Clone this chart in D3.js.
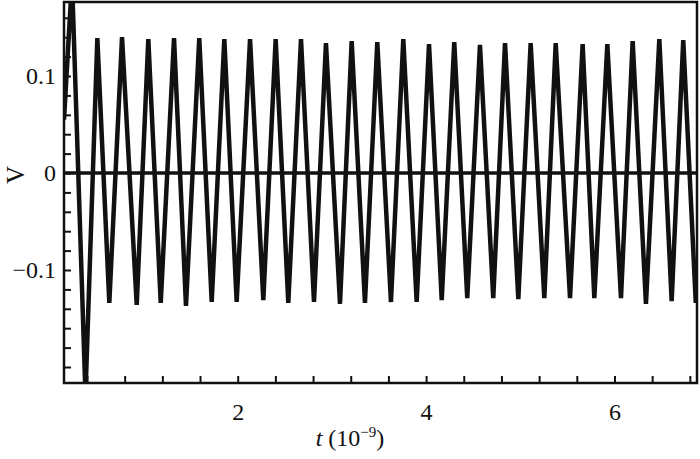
<!DOCTYPE html>
<html>
<head>
<meta charset="utf-8">
<script src="https://cdn.jsdelivr.net/npm/d3@7"></script>
<style>
  body { margin: 0; background: #fff; }
  svg { display: block; font-family: "Liberation Serif", "Times New Roman", serif; }
</style>
</head>
<body>
<svg id="chart"></svg>
<script>
// waveform vertices: t (10^-9), V
const timeVals = [0.156, 0.241, 0.384, 0.510, 0.637, 0.772, 0.928, 1.051, 1.183, 1.324,
                  1.451, 1.592, 1.724, 1.858, 1.989, 2.131, 2.272, 2.403, 2.537, 2.672,
                  2.810, 2.937, 3.086, 3.210, 3.351, 3.482, 3.627, 3.758, 3.900, 4.031,
                  4.166, 4.299, 4.437, 4.572, 4.713, 4.838, 4.979, 5.110, 5.255, 5.376,
                  5.528, 5.662, 5.786, 5.924, 6.069, 6.193, 6.334, 6.476, 6.607, 6.730,
                  6.863];
const voltVals = [0.055, 0.199, -0.229, 0.139, -0.134, 0.140, -0.136, 0.138, -0.134, 0.139,
                  -0.137, 0.139, -0.133, 0.138, -0.133, 0.138, -0.131, 0.138, -0.134, 0.138,
                  -0.133, 0.134, -0.135, 0.136, -0.134, 0.135, -0.133, 0.138, -0.133, 0.133,
                  -0.131, 0.135, -0.129, 0.132, -0.129, 0.134, -0.130, 0.134, -0.129, 0.134,
                  -0.129, 0.133, -0.129, 0.133, -0.129, 0.136, -0.135, 0.138, -0.132, 0.137,
                  -0.134];

const xDomain = [0.156, 6.876];
const yDomain = [-0.2165, 0.1763];

const xTickVals = [2, 4, 6];
const xTickLabels = ["2", "4", "6"];
const yTickVals = [-0.1, 0, 0.1];
const yTickLabels = ["\u22120.1", "0", "0.1"];

const xLabel = "t";
const yLabel = "V";

class SignalChart {

  constructor(_config, _t, _v) {
    this.config = {
      parentElement: _config.parentElement,
      containerWidth: _config.containerWidth || 700,
      containerHeight: _config.containerHeight || 459,
      margin: { top: 2, bottom: 76, right: 3, left: 64 }
    }
    this.data = _t.map((t, i) => ({ t: t, v: _v[i] }));
    this.initVis();
  }

  initVis() {
    let vis = this;

    vis.width = vis.config.containerWidth - vis.config.margin.left - vis.config.margin.right;
    vis.height = vis.config.containerHeight - vis.config.margin.top - vis.config.margin.bottom;

    vis.svg = d3.select(vis.config.parentElement)
        .attr('width', vis.config.containerWidth)
        .attr('height', vis.config.containerHeight);

    vis.chart = vis.svg.append('g')
        .attr('transform', `translate(${vis.config.margin.left},${vis.config.margin.top})`);

    vis.xScale = d3.scaleLinear().domain(xDomain).range([0, vis.width]);
    vis.yScale = d3.scaleLinear().domain(yDomain).range([vis.height, 0]);

    vis.svg.append('defs').append('clipPath').attr('id', 'plotclip')
      .append('rect')
        .attr('width', vis.width)
        .attr('height', vis.height);

    // minor ticks every 0.4 / 0.02, labels only on the major ones
    const xMinor = d3.range(1, 18).map(i => +(i * 0.4).toFixed(2));
    const yMinor = d3.range(-10, 9).map(i => +(i * 0.02).toFixed(2));
    const labelFor = (vals, labels) => d => {
      const i = vals.findIndex(v => Math.abs(v - d) < 1e-6);
      return i < 0 ? "" : labels[i];
    };

    vis.xAxisG = vis.chart.append('g')
      .attr('transform', `translate(0,${vis.height})`)
      .call(d3.axisBottom(vis.xScale)
        .tickValues(xMinor)
        .tickSize(-7)
        .tickPadding(20)
        .tickFormat(labelFor(xTickVals, xTickLabels)));

    vis.yAxisG = vis.chart.append('g')
      .call(d3.axisLeft(vis.yScale)
        .tickValues(yMinor)
        .tickSize(-7)
        .tickPadding(8)
        .tickFormat(labelFor(yTickVals, yTickLabels)));

    vis.chart.selectAll('.domain').remove();
    vis.chart.selectAll('.tick line').attr('stroke', '#111').attr('stroke-width', 2);
    vis.chart.selectAll('.tick text')
      .attr('fill', '#111')
      .attr('font-family', null)
      .style('font-size', '24px')
      .style('font-family', '"Liberation Serif", "Times New Roman", serif');

    // zero axis
    vis.chart.append('line')
      .attr('x1', 0).attr('x2', vis.width)
      .attr('y1', vis.yScale(0)).attr('y2', vis.yScale(0))
      .attr('stroke', '#111')
      .attr('stroke-width', 3.5);

    vis.line = d3.line().x(d => vis.xScale(d.t)).y(d => vis.yScale(d.v));

    vis.chart.append('path')
      .datum(vis.data)
      .attr('clip-path', 'url(#plotclip)')
      .attr('d', vis.line)
      .attr('fill', 'none')
      .attr('stroke', '#111')
      .attr('stroke-width', 4.5)
      .attr('stroke-linejoin', 'bevel');

    // frame
    vis.chart.append('rect')
      .attr('width', vis.width)
      .attr('height', vis.height)
      .attr('fill', 'none')
      .attr('stroke', '#111')
      .attr('stroke-width', 2.5);

    vis.svg.append('text')
      .attr('transform', `translate(24,${vis.config.margin.top + vis.yScale(0) + 2}) rotate(-90)`)
      .attr('text-anchor', 'middle')
      .attr('fill', '#111')
      .style('font-size', '25px')
      .text(yLabel);

    const xl = vis.svg.append('text')
      .attr('x', 350)
      .attr('y', 446)
      .attr('text-anchor', 'middle')
      .attr('fill', '#111')
      .style('font-size', '24px');
    xl.append('tspan').style('font-style', 'italic').text(xLabel);
    xl.append('tspan').text(' (10');
    xl.append('tspan').attr('dy', -9).style('font-size', '15px').text('\u22129');
    xl.append('tspan').attr('dy', 9).text(')');
  }
}

new SignalChart({ parentElement: '#chart' }, timeVals, voltVals);
</script>
</body>
</html>
